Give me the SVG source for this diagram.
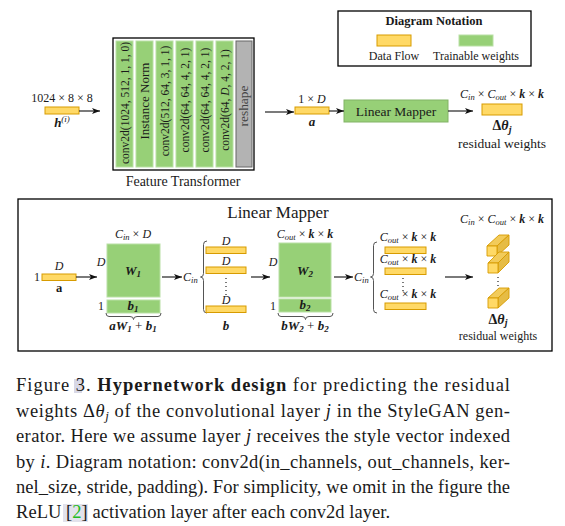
<svg xmlns="http://www.w3.org/2000/svg" width="565" height="526" viewBox="0 0 565 526">
<style>
text{font-family:"Liberation Serif","Times New Roman",serif;fill:#1a1a1a}
.df{fill:#FFD966;stroke:#D79B00;stroke-width:1}
.tw{fill:#97D077;stroke:#B9E0A5;stroke-width:1}
.twb{fill:#97D077;stroke:#82B366;stroke-width:1}
.box{fill:none;stroke:#000;stroke-width:1.3}
.ln{stroke:#222;stroke-width:1.2;fill:none}
.br{stroke:#555;stroke-width:1;fill:none}
.vt{font-size:11.5px;text-anchor:middle;dominant-baseline:central}
.m{font-size:12px;text-anchor:middle}
.i{font-style:italic}
.b{font-weight:bold}
.sub{font-size:8.5px}
.cap{font-size:18.5px}
.dot{stroke:#222;stroke-width:1.2;stroke-dasharray:1 3;fill:none}
</style>
<defs>
<marker id="ah" markerWidth="8" markerHeight="6" refX="8" refY="3" orient="auto" markerUnits="userSpaceOnUse">
<path d="M0,0 L8,3 L0,6 L2,3 z" fill="#111"/>
</marker>
</defs>

<!-- Notation -->
<g id="notation">
<rect class="box" x="338" y="11" width="193" height="55"/>
<text x="434" y="25" class="b" font-size="12.5" text-anchor="middle">Diagram Notation</text>
<rect class="df" x="377" y="35" width="34" height="11"/>
<rect class="tw" x="459" y="35" width="34" height="11"/>
<text x="394" y="60" font-size="12" text-anchor="middle">Data Flow</text>
<text x="476" y="60" font-size="12" text-anchor="middle">Trainable weights</text>
</g>

<!-- Input -->
<g id="input">
<text x="62" y="102" font-size="12" text-anchor="middle">1024 × 8 × 8</text>
<rect class="df" x="45" y="107" width="34" height="7"/>
<text x="62" y="127" font-size="13" text-anchor="middle"><tspan class="b i">h</tspan><tspan font-size="9" dy="-5" class="i">(i)</tspan></text>
</g>

<!-- Feature Transformer -->
<g id="feature-transformer">
<rect class="box" x="113" y="38" width="141" height="132"/>
<rect class="tw" x="116" y="41" width="17" height="126"/>
<rect class="tw" x="136" y="41" width="17" height="126"/>
<rect class="tw" x="156" y="41" width="17" height="126"/>
<rect class="tw" x="176" y="41" width="17" height="126"/>
<rect class="tw" x="196" y="41" width="17" height="126"/>
<rect class="tw" x="216" y="41" width="17" height="126"/>
<rect x="236" y="41" width="16" height="126" fill="#B3B3B3" stroke="#666" stroke-width="1"/>
<text class="vt" transform="translate(124.5,103) rotate(-90)">conv2d(1024, 512, 1, 1, 0)</text>
<text class="vt" transform="translate(144.5,101) rotate(-90)" textLength="77" lengthAdjust="spacingAndGlyphs">Instance Norm</text>
<text class="vt" transform="translate(164.5,101) rotate(-90)">conv2d(512, 64, 3, 1, 1)</text>
<text class="vt" transform="translate(184.5,100) rotate(-90)">conv2d(64, 64, 4, 2, 1)</text>
<text class="vt" transform="translate(204.5,100) rotate(-90)">conv2d(64, 64, 4, 2, 1)</text>
<text class="vt" transform="translate(224.5,100) rotate(-90)">conv2d(64, <tspan class="i">D</tspan>, 4, 2, 1)</text>
<text class="vt" transform="translate(244,106) rotate(-90)" style="fill:#444" textLength="41" lengthAdjust="spacingAndGlyphs">reshape</text>
<text x="183" y="186" font-size="14" text-anchor="middle">Feature Transformer</text>
</g>

<!-- a -->
<g id="a-top">
<text x="312" y="103" font-size="12" text-anchor="middle">1 × <tspan class="i">D</tspan></text>
<rect class="df" x="295" y="107" width="34" height="7"/>
<text x="312" y="126" font-size="13" text-anchor="middle" class="b i">a</text>
</g>

<g id="linear-mapper-top">
<rect class="twb" x="344" y="100" width="104" height="22"/>
<text x="396" y="115.5" font-size="13.5" text-anchor="middle">Linear Mapper</text>
</g>

<g id="output-top">
<text x="502" y="98" font-size="12" text-anchor="middle"><tspan class="i">C</tspan><tspan class="sub i" dy="2">in</tspan><tspan dy="-2"> × </tspan><tspan class="i">C</tspan><tspan class="sub i" dy="2">out</tspan><tspan dy="-2"> × </tspan><tspan class="i b">k</tspan> × <tspan class="i b">k</tspan></text>
<rect class="df" x="482" y="104" width="40" height="11"/>
<text x="502" y="130" font-size="14" text-anchor="middle" class="b">Δ<tspan class="i">θ</tspan><tspan class="i" font-size="10" dy="3">j</tspan></text>
<text x="502" y="148" font-size="13.5" text-anchor="middle">residual weights</text>
</g>

<!-- Bottom Linear Mapper -->
<g id="mapper-frame">
<rect class="box" x="18" y="199" width="534" height="152"/>
<text x="278" y="218" font-size="17" text-anchor="middle">Linear Mapper</text>
</g>

<g id="a-bottom">
<text x="37" y="281" font-size="12" text-anchor="middle">1</text>
<text x="59" y="270" font-size="12" text-anchor="middle" class="i">D</text>
<rect class="df" x="42" y="274" width="34" height="6.5"/>
<text x="59" y="292" font-size="12.5" text-anchor="middle" class="b">a</text>
</g>

<g id="w1">
<text x="133" y="238" class="m"><tspan class="i">C</tspan><tspan class="sub i" dy="2">in</tspan><tspan dy="-2"> × </tspan><tspan class="i">D</tspan></text>
<text x="101" y="266" font-size="12" text-anchor="middle" class="i">D</text>
<text x="101" y="310" font-size="12" text-anchor="middle">1</text>
<rect class="tw" x="107" y="244" width="53" height="53"/>
<rect class="tw" x="107" y="300" width="53" height="13"/>
<text x="133" y="275" font-size="13" text-anchor="middle" class="b i">W<tspan font-size="9" dy="2">1</tspan></text>
<text x="133" y="310" font-size="13" text-anchor="middle" class="b i">b<tspan font-size="9" dy="2">1</tspan></text>
<path class="br" d="M106,313 q0,3.5 3,3.5 h21 q3.5,0 3.5,3 q0,-3 3.5,-3 h21 q3,0 3,-3.5"/>
<text x="133" y="330" font-size="13" text-anchor="middle" class="b i">aW<tspan font-size="9" dy="2">1</tspan><tspan dy="-2" font-weight="normal" font-style="normal"> + </tspan>b<tspan font-size="9" dy="2">1</tspan></text>
</g>

<g id="b-vectors">
<text x="183" y="281" font-size="12" class="i">C<tspan class="sub" dy="2">in</tspan></text>
<path class="br" d="M207,241 q-3.5,0 -3.5,3.5 v29 q0,3.5 -3,3.5 q3,0 3,3.5 v29 q0,3.5 3.5,3.5"/>
<text x="226" y="245" font-size="12" text-anchor="middle" class="i">D</text>
<rect class="df" x="206" y="247" width="40" height="6.5"/>
<text x="226" y="265" font-size="12" text-anchor="middle" class="i">D</text>
<rect class="df" x="206" y="267" width="40" height="6.5"/>
<line class="dot" x1="226" y1="278" x2="226" y2="296"/>
<text x="226" y="304" font-size="12" text-anchor="middle" class="i">D</text>
<rect class="df" x="206" y="306" width="40" height="6.5"/>
<text x="226" y="330" font-size="13" text-anchor="middle" class="b i">b</text>
</g>

<g id="w2">
<text x="305" y="238" class="m"><tspan class="i">C</tspan><tspan class="sub i" dy="2">out</tspan><tspan dy="-2"> × </tspan><tspan class="i b">k</tspan> × <tspan class="i b">k</tspan></text>
<text x="273" y="266" font-size="12" text-anchor="middle" class="i">D</text>
<text x="273" y="310" font-size="12" text-anchor="middle">1</text>
<rect class="tw" x="279" y="243" width="52" height="54"/>
<rect class="tw" x="279" y="299" width="52" height="13"/>
<text x="305" y="275" font-size="13" text-anchor="middle" class="b i">W<tspan font-size="9" dy="2">2</tspan></text>
<text x="305" y="309" font-size="13" text-anchor="middle" class="b i">b<tspan font-size="9" dy="2">2</tspan></text>
<path class="br" d="M278,313 q0,3.5 3,3.5 h21 q3.5,0 3.5,3 q0,-3 3.5,-3 h21 q3,0 3,-3.5"/>
<text x="305" y="330" font-size="13" text-anchor="middle" class="b i">bW<tspan font-size="9" dy="2">2</tspan><tspan dy="-2" font-weight="normal" font-style="normal"> + </tspan>b<tspan font-size="9" dy="2">2</tspan></text>
</g>

<g id="c-vectors">
<text x="354" y="281" font-size="12" class="i">C<tspan class="sub" dy="2">in</tspan></text>
<path class="br" d="M377,242 q-3.5,0 -3.5,3.5 v28 q0,3.5 -3,3.5 q3,0 3,3.5 v29 q0,3.5 3.5,3.5"/>
<text x="408" y="241" class="m"><tspan class="i">C</tspan><tspan class="sub i" dy="2">out</tspan><tspan dy="-2"> × </tspan><tspan class="i b">k</tspan> × <tspan class="i b">k</tspan></text>
<rect class="df" x="385" y="247" width="41" height="6.5"/>
<text x="408" y="263" class="m"><tspan class="i">C</tspan><tspan class="sub i" dy="2">out</tspan><tspan dy="-2"> × </tspan><tspan class="i b">k</tspan> × <tspan class="i b">k</tspan></text>
<rect class="df" x="385" y="268" width="41" height="6.5"/>
<line class="dot" x1="403" y1="278" x2="403" y2="291"/>
<text x="408" y="298" class="m"><tspan class="i">C</tspan><tspan class="sub i" dy="2">out</tspan><tspan dy="-2"> × </tspan><tspan class="i b">k</tspan> × <tspan class="i b">k</tspan></text>
<rect class="df" x="385" y="303" width="41" height="6.5"/>
</g>

<g id="residual-bottom">
<text x="502" y="223" class="m"><tspan class="i">C</tspan><tspan class="sub i" dy="2">in</tspan><tspan dy="-2"> × </tspan><tspan class="i">C</tspan><tspan class="sub i" dy="2">out</tspan><tspan dy="-2"> × </tspan><tspan class="i b">k</tspan> × <tspan class="i b">k</tspan></text>
<g stroke="#D79B00" stroke-width="0.9" stroke-linejoin="round">
<polygon points="487,246 499,235 509,235 497,246" fill="#F2CB5A"/>
<polygon points="497,246 509,235 509,245 497,256" fill="#E6BC45"/>
<rect x="487" y="246" width="10" height="10" fill="#FFD966"/>
<polygon points="488,263 499,252 509,252 498,263" fill="#F2CB5A"/>
<polygon points="498,263 509,252 509,262 498,273" fill="#E6BC45"/>
<rect x="488" y="263" width="10" height="10" fill="#FFD966"/>
<polygon points="488,298 499,288 509,288 498,298" fill="#F2CB5A"/>
<polygon points="498,298 509,288 509,298 498,308" fill="#E6BC45"/>
<rect x="488" y="298" width="10" height="10" fill="#FFD966"/>
</g>
<line class="dot" x1="498" y1="277" x2="498" y2="287"/>
<text x="498" y="324" font-size="14" text-anchor="middle" class="b">Δ<tspan class="i">θ</tspan><tspan class="i" font-size="10" dy="2">j</tspan></text>
<text x="498" y="340" font-size="12" text-anchor="middle">residual weights</text>
</g>

<!-- connectors -->
<g id="connectors">
<line class="ln" x1="79" y1="111" x2="100" y2="111" marker-end="url(#ah)"/>
<line class="ln" x1="265" y1="112" x2="294" y2="112" marker-end="url(#ah)"/>
<line class="ln" x1="329" y1="111" x2="344" y2="111" marker-end="url(#ah)"/>
<line class="ln" x1="448" y1="111" x2="473" y2="111" marker-end="url(#ah)"/>
<line class="ln" x1="76" y1="277" x2="97" y2="277" marker-end="url(#ah)"/>
<line class="ln" x1="162" y1="277" x2="182" y2="277" marker-end="url(#ah)"/>
<line class="ln" x1="251" y1="277" x2="270" y2="277" marker-end="url(#ah)"/>
<line class="ln" x1="334" y1="277" x2="353" y2="277" marker-end="url(#ah)"/>
<line class="ln" x1="445" y1="277" x2="473" y2="277" marker-end="url(#ah)"/>
</g>

<!-- caption -->
<g id="caption">
<rect x="74" y="379" width="8" height="14" fill="#D8D8E6"/>
<rect x="63" y="504" width="25" height="18" fill="#E2E2EC"/>
<text class="cap" x="16" y="391" textLength="494" lengthAdjust="spacing">Figure 3.  <tspan class="b">Hypernetwork design</tspan> for predicting the residual</text>
<text class="cap" x="16" y="417" textLength="494" lengthAdjust="spacing">weights Δ<tspan class="i">θ</tspan><tspan class="i" font-size="13" dy="3">j</tspan><tspan dy="-3"> of the convolutional layer </tspan><tspan class="i">j</tspan> in the StyleGAN gen-</text>
<text class="cap" x="16" y="442" textLength="494" lengthAdjust="spacing">erator. Here we assume layer <tspan class="i">j</tspan> receives the style vector indexed</text>
<text class="cap" x="16" y="468" textLength="494" lengthAdjust="spacing">by <tspan class="i">i</tspan>. Diagram notation: conv2d(in_channels, out_channels, ker-</text>
<text class="cap" x="16" y="493" textLength="494" lengthAdjust="spacing">nel_size, stride, padding). For simplicity, we omit in the figure the</text>
<text class="cap" x="16" y="518" textLength="374" lengthAdjust="spacing">ReLU [<tspan style="fill:#22BB22">2</tspan>] activation layer after each conv2d layer.</text>
</g>
</svg>
